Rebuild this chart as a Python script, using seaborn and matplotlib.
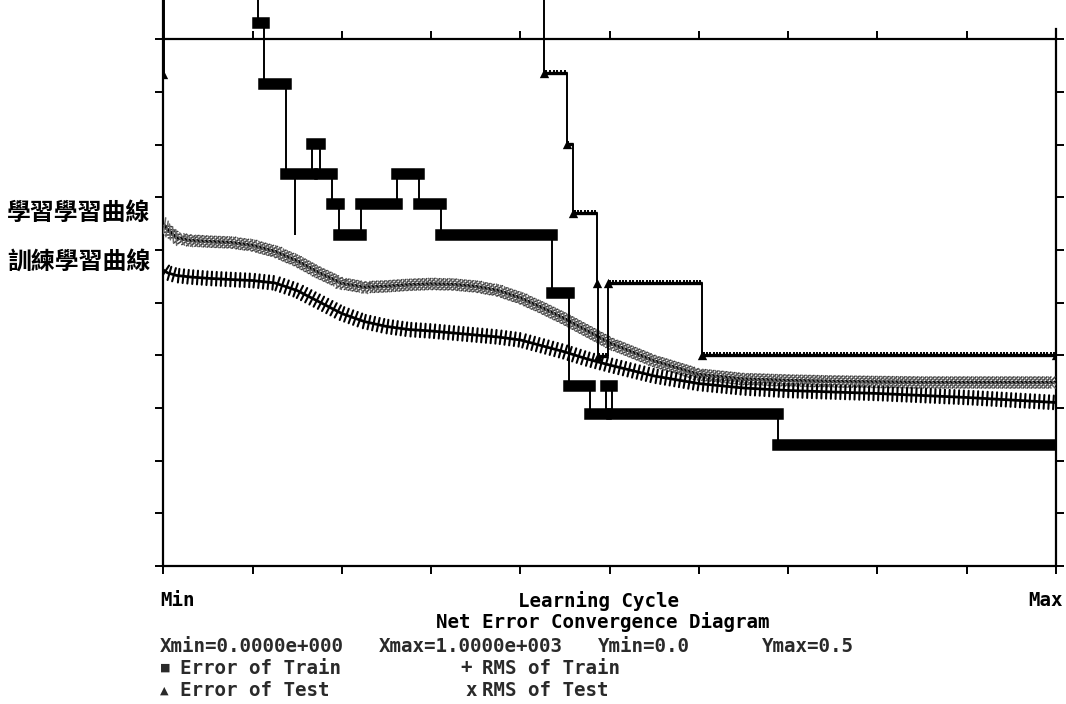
import numpy as np
import pandas as pd
import matplotlib
matplotlib.use("Agg")
import matplotlib.pyplot as plt
import matplotlib.patheffects as pe
import seaborn as sns

# ---------------- data ----------------
rms_x = [0, 5, 15, 30, 50, 75, 100, 125, 150, 175, 200, 225, 250, 275, 300, 325,
         350, 375, 400, 425, 450, 475, 500, 550, 600, 650, 700, 750, 800, 850,
         900, 950, 1000]
rms_test = [0.3247, 0.319, 0.3114, 0.309, 0.308, 0.3071, 0.3043, 0.2986, 0.2895,
            0.2781, 0.2682, 0.2646, 0.2655, 0.2669, 0.2677, 0.2672, 0.2653, 0.2615,
            0.2544, 0.2449, 0.2345, 0.2231, 0.2117, 0.1946, 0.1818, 0.1775, 0.1761,
            0.1752, 0.1747, 0.1742, 0.1742, 0.1742, 0.1742]
rms_train = [0.281, 0.2782, 0.2758, 0.2744, 0.2731, 0.272, 0.271, 0.2687, 0.2615,
             0.2506, 0.2397, 0.2321, 0.2274, 0.2245, 0.2231, 0.2212, 0.2193, 0.2174,
             0.2146, 0.2089, 0.2032, 0.1965, 0.1908, 0.1804, 0.1732, 0.169, 0.1666,
             0.1652, 0.1638, 0.1619, 0.16, 0.1576, 0.1552]

train_err_start = [0, 106, 113, 137, 166.6, 175.6, 188.7, 197.2, 221.2, 261.5,
                   286.5, 310.8, 435.9, 455, 478, 496, 502.4, 689]
train_err_val = [0.60, 0.5152, 0.4573, 0.3719, 0.4009, 0.3719, 0.3437, 0.3142,
                 0.3437, 0.3719, 0.3437, 0.3142, 0.2592, 0.1709, 0.1443, 0.1709,
                 0.1443, 0.1149]
train_err_dip_x = [148]
train_err_dip_val = [0.3142]

test_err_start = [0, 1, 427, 452, 459, 485.6, 486.5, 498.3, 603.6]
test_err_val = [0.467, 0.60, 0.468, 0.4006, 0.335, 0.2684, 0.1994, 0.2684, 0.2003]

x_min, x_max = 0, 1000
y_min, y_max = 0.0, 0.5

# ---------------- figure ----------------
sns.set_style("white")
plt.rcParams["font.family"] = ["DejaVu Sans Mono", "DejaVu Sans"]

W, H = 1066, 704
fig = plt.figure(figsize=(W / 100, H / 100), dpi=100)
ax = fig.add_axes([163.3 / W, (H - 566) / H, (1055.8 - 163.3) / W, 566 / H])
ax.set_facecolor("white")

# step-series helpers
tr_x = train_err_start + [x_max]
tr_y = train_err_val + [train_err_val[-1]]
te_x = test_err_start + [x_max]
te_y = test_err_val + [test_err_val[-1]]

# RMS of Test (x markers)
xs = dict(spacing=3.0, length=1.9, linewidth=1.1)
x_fx = [pe.withTickedStroke(angle=45, foreground="#3a3a3a", **xs),
        pe.TickedStroke(angle=-135, foreground="#3a3a3a", **xs),
        pe.TickedStroke(angle=135, foreground="#6a6a6a", **xs),
        pe.TickedStroke(angle=-45, foreground="#6a6a6a", **xs)]
sns.lineplot(x=rms_x, y=rms_test, ax=ax, color="black", linewidth=2.2,
             estimator=None, sort=False, path_effects=x_fx, zorder=3)

# RMS of Train (+ markers)
ps = dict(spacing=3.4, length=1.45, linewidth=1.5, foreground="black")
p_fx = [pe.withTickedStroke(angle=90, **ps),
        pe.TickedStroke(angle=-90, **ps)]
sns.lineplot(x=rms_x, y=rms_train, ax=ax, color="black", linewidth=2.0,
             estimator=None, sort=False, path_effects=p_fx, zorder=3)

# Error of Train (square markers -> thick bars)
sns.lineplot(x=tr_x, y=tr_y, ax=ax, color="black", linewidth=1.4,
             estimator=None, sort=False, drawstyle="steps-post", zorder=4)
bars = ax.hlines(train_err_val, train_err_start, tr_x[1:], colors="black",
                 linewidth=8.3, zorder=4)
bars.set_capstyle("projecting")
ax.vlines(train_err_dip_x, train_err_dip_val,
          [train_err_val[3]] * len(train_err_dip_x), colors="black", linewidth=1.4, zorder=4)

# Error of Test (triangle markers)
sns.lineplot(x=te_x, y=te_y, ax=ax, color="black", linewidth=1.4,
             estimator=None, sort=False, drawstyle="steps-post", zorder=5)
lv = ax.hlines(test_err_val, test_err_start, te_x[1:], colors="black",
               linewidth=2.4, zorder=5)
lv.set_path_effects([pe.withTickedStroke(angle=90, spacing=2.4, length=1.0,
                                         linewidth=1.4, foreground="black")])
sns.scatterplot(x=te_x, y=te_y, ax=ax, marker="^", s=45, color="black",
                edgecolor="black", linewidth=0, zorder=6)

# ---------------- axes styling ----------------
ax.set_xlim(x_min, x_max)
ax.set_ylim(y_min, y_max + 39.3 / 1053.4)
ax.set_xticks(np.arange(x_min, x_max + 1, 100))
ax.set_yticks(np.arange(0, y_max + 0.001, 0.05))
ax.set_xlabel("")
ax.set_ylabel("")
for s in ax.spines.values():
    s.set_visible(True)
    s.set_color("black")
    s.set_linewidth(1.6)
ax.spines["top"].set_position(("data", y_max))
ax.spines["right"].set_bounds(y_min, y_max + 0.01)
ax.tick_params(axis="both", which="major", direction="out", length=5.5, width=1.4,
               color="black", top=True, right=True, bottom=True, left=True,
               labelbottom=False, labelleft=False, labeltop=False, labelright=False)
ax.grid(False)

# ---------------- texts ----------------
def ft(px, py, s, ha="left", color="black", size=13.8, weight="bold", family=None):
    kw = {}
    if family is not None:
        kw["family"] = family
    fig.text(px / W, 1 - py / H, s, ha=ha, va="center", color=color,
             fontsize=size, fontweight=weight, **kw)

ft(160, 601, "Min")
ft(598, 601, "Learning Cycle", ha="center")
ft(1063, 601, "Max", ha="right")
ft(603, 622, "Net Error Convergence Diagram", ha="center")
g = "#2a2a2a"
ft(160, 647, "Xmin=0.0000e+000", color=g)
ft(379, 647, "Xmax=1.0000e+003", color=g)
ft(598, 647, "Ymin=0.0", color=g)
ft(762, 647, "Ymax=0.5", color=g)
ft(160, 668, "■", color=g, size=8, family=["DejaVu Sans"])
ft(180, 668, "Error of Train", color=g)
ft(460, 668, "+", color=g)
ft(482, 668, "RMS of Train", color=g)
ft(160, 691, "▲", color=g, size=8, family=["DejaVu Sans"])
ft(180, 691, "Error of Test", color=g)
ft(465, 691, "x", color=g)
ft(482, 691, "RMS of Test", color=g)

cjk = ["Noto Sans CJK TC", "DejaVu Sans"]
ft(7, 213, "學習學習曲線", size=17.2, weight="bold", family=cjk)
ft(7, 262, "訓練學習曲線", size=17.2, weight="bold", family=cjk)

fig.savefig("out.png", dpi=100, facecolor="white")
